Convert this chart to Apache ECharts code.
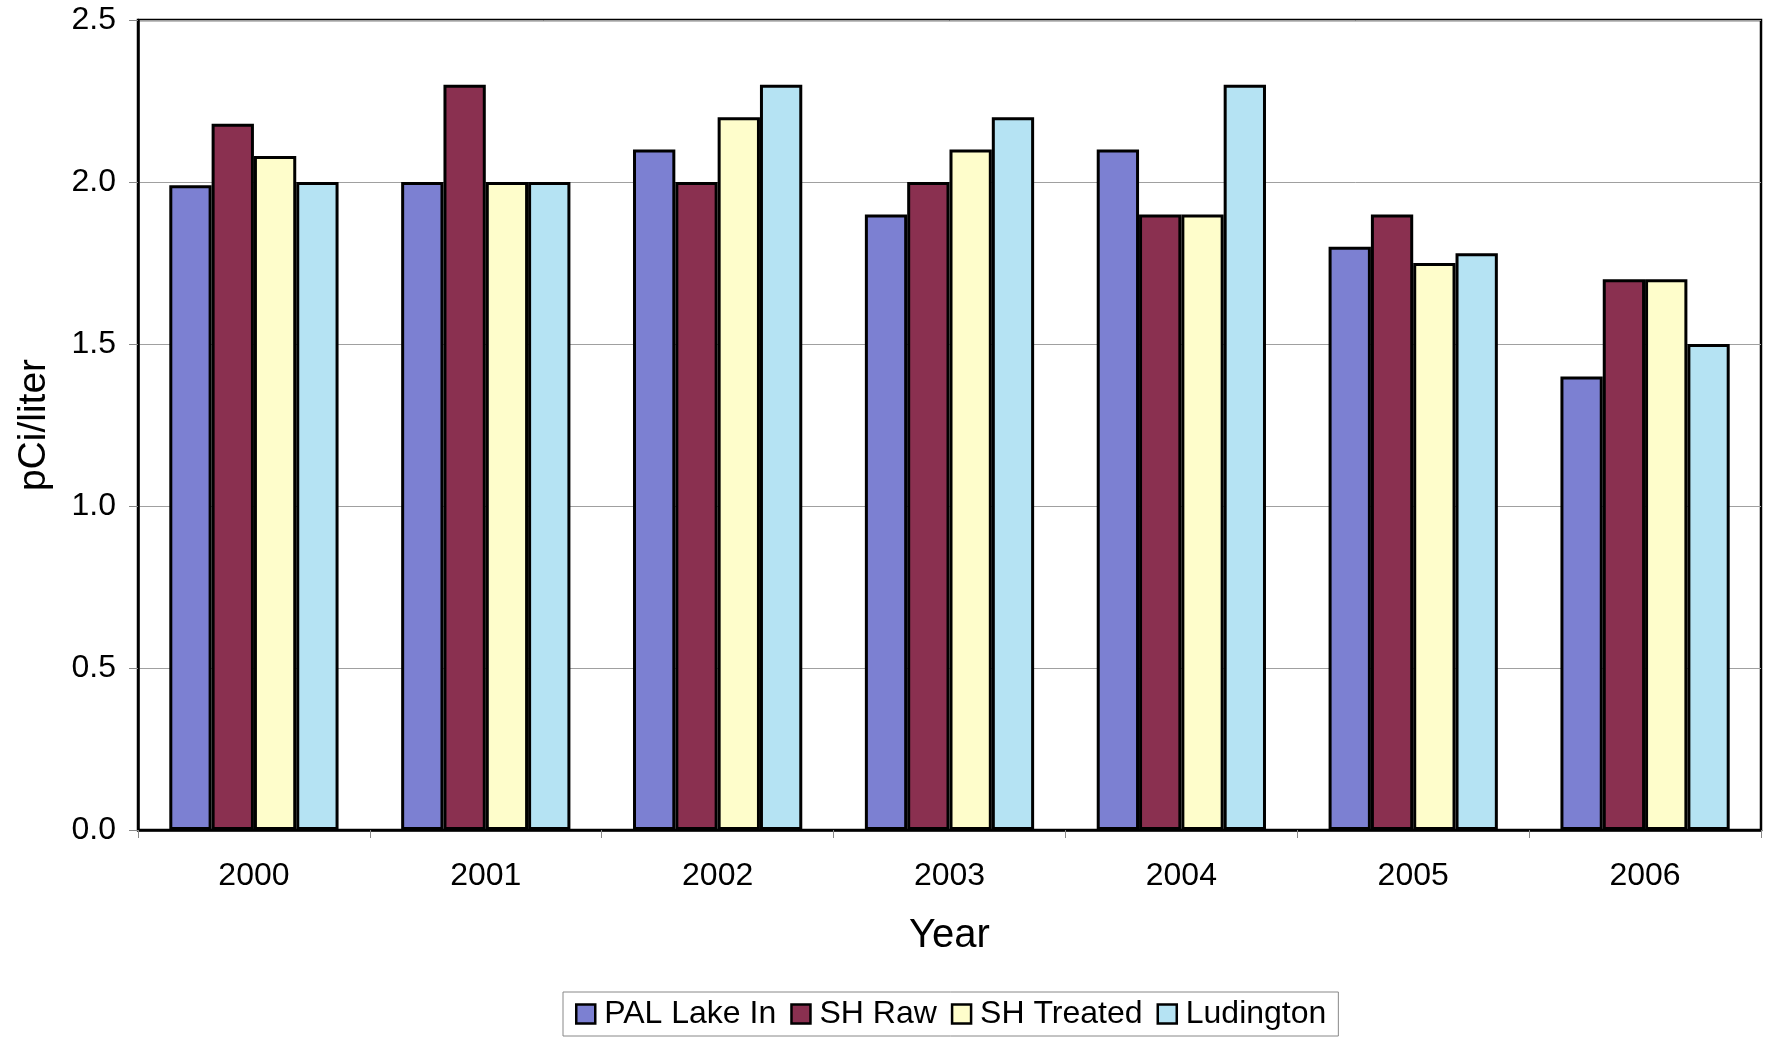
<!DOCTYPE html>
<html>
<head>
<meta charset="utf-8">
<script src="https://cdn.jsdelivr.net/npm/echarts@6/dist/echarts.min.js"></script>
<style>
  html, body { margin: 0; padding: 0; background: #fff; }
  #chart { width: 1776px; height: 1042px; }
</style>
</head>
<body>
<div id="chart"></div>
<script>
const years = ['2000', '2001', '2002', '2003', '2004', '2005', '2006']
const palLakeIn = [1.99, 2.0, 2.1, 1.9, 2.1, 1.8, 1.4]
const shRaw = [2.18, 2.3, 2.0, 2.0, 1.9, 1.9, 1.7]
const shTreated = [2.08, 2.0, 2.2, 2.1, 1.9, 1.75, 1.7]
const ludington = [2.0, 2.0, 2.3, 2.2, 2.3, 1.78, 1.5]

const font = '"Liberation Sans", Arial, Helvetica, sans-serif'

const chart = echarts.init(document.getElementById('chart'))

const barSeries = (name, data, color) => ({
  name: name,
  type: 'bar',
  data: data,
  barGap: 0,
  barCategoryGap: '27%',
  itemStyle: {
    color: color,
    borderColor: '#000',
    borderWidth: 3
  }
})

const option = {
  animation: false,
  backgroundColor: '#fff',
  textStyle: { fontFamily: font },
  grid: {
    left: 138,
    right: 15,
    top: 20,
    bottom: 212,
    show: true,
    borderColor: '#000',
    borderWidth: 2.5,
    backgroundColor: '#fff'
  },
  // legend box sits centred under the plot area, not the page
  legend: {
    top: 992,
    left: 563,
    padding: [6, 12],
    borderColor: '#888',
    borderWidth: 1,
    itemWidth: 19,
    itemHeight: 19,
    itemGap: 14,
    icon: 'rect',
    itemStyle: { borderColor: '#000', borderWidth: 2.5 },
    textStyle: { fontSize: 32, color: '#000', fontFamily: font, padding: [0, 0, 0, 4] }
  },
  xAxis: {
    type: 'category',
    data: years,
    name: 'Year',
    nameLocation: 'middle',
    nameGap: 86,
    nameTextStyle: { fontSize: 40, color: '#000', fontFamily: font },
    axisLine: { lineStyle: { color: '#000', width: 2.5 } },
    axisTick: { show: true, length: 8, lineStyle: { color: '#888', width: 1 } },
    axisLabel: { fontSize: 32, color: '#000', margin: 30, fontFamily: font }
  },
  yAxis: {
    type: 'value',
    min: 0,
    max: 2.5,
    interval: 0.5,
    name: 'pCi/liter',
    nameLocation: 'middle',
    nameGap: 84,
    nameRotate: 90,
    nameTextStyle: { fontSize: 39, color: '#000', fontFamily: font },
    axisLine: { show: true, lineStyle: { color: '#000', width: 2.5 } },
    axisTick: { show: true, length: 9, lineStyle: { color: '#888', width: 1 } },
    axisLabel: {
      fontSize: 32,
      color: '#000',
      margin: 22,
      fontFamily: font,
      formatter: (v) => v.toFixed(1)
    },
    splitLine: { lineStyle: { color: '#a0a0a0', width: 1 } }
  },
  series: [
    barSeries('PAL Lake In', palLakeIn, '#7c80d2'),
    barSeries('SH Raw', shRaw, '#8a3050'),
    barSeries('SH Treated', shTreated, '#fefdcb'),
    barSeries('Ludington', ludington, '#b5e3f3')
  ]
}

chart.setOption(option)
</script>
</body>
</html>
